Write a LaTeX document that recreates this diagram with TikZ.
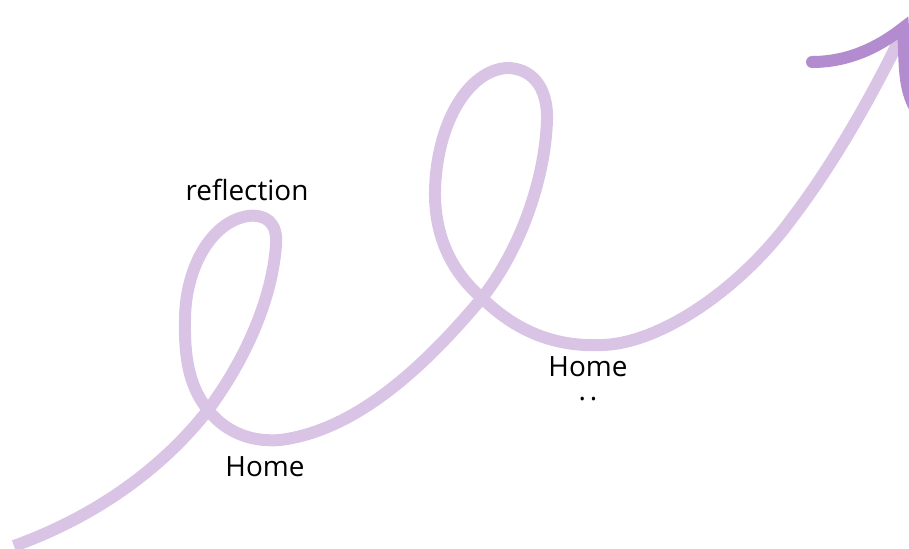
\documentclass[tikz,border=0pt]{standalone}
\usepackage{xcolor}
\usepackage{fontspec}
\setmainfont{Open Sans}
\usepackage{tikz}
\usetikzlibrary{positioning}

\definecolor{lilac}{HTML}{D9C4E6}
\definecolor{plum}{HTML}{B38BCF}

\begin{document}
\begin{tikzpicture}[x=1bp, y=-1bp,
    trail/.style={draw=lilac, line width=12bp},
    tip/.style={draw=plum, line width=12bp, line cap=round},
    label/.style={font=\fontsize{28}{33}\selectfont, text=black, inner sep=0pt}]

    \useasboundingbox (0,0) rectangle (909,549);
    \clip (0,0) rectangle (909,549);

    % the looping path
    \draw[trail] (14,546) .. controls (100,515) and (165,465) .. (208,410)
        .. controls (245,360) and (272,300) .. (276,245)
        .. controls (278,222) and (265,214) .. (248,216)
        .. controls (210,222) and (185,270) .. (185,320)
        .. controls (184,365) and (192,390) .. (208,410)
        .. controls (228,435) and (255,442) .. (280,440)
        .. controls (360,430) and (430,360) .. (482,298)
        .. controls (520,250) and (545,180) .. (547,120)
        .. controls (548,85) and (530,68) .. (507,68)
        .. controls (470,70) and (437,120) .. (435,190)
        .. controls (434,240) and (455,275) .. (482,298)
        .. controls (520,335) and (560,347) .. (603,345)
        .. controls (660,343) and (740,290) .. (793,217)
        .. controls (840,155) and (880,80) .. (903,32);

    % arrow head
    \draw[tip] (812,62) .. controls (850,62) and (880,46) .. (903,28)
        .. controls (905,60) and (903,85) .. (914,106);

    \node[label] (refl) at (247,190) {reflection};
    \node[label] (home1) at (265,467) {Home};
    \node[label] (home2) at (588,367) {Home};
    \node[label, below=20bp of home2.south] (dots) {.\hspace{4bp}.};
\end{tikzpicture}
\end{document}
